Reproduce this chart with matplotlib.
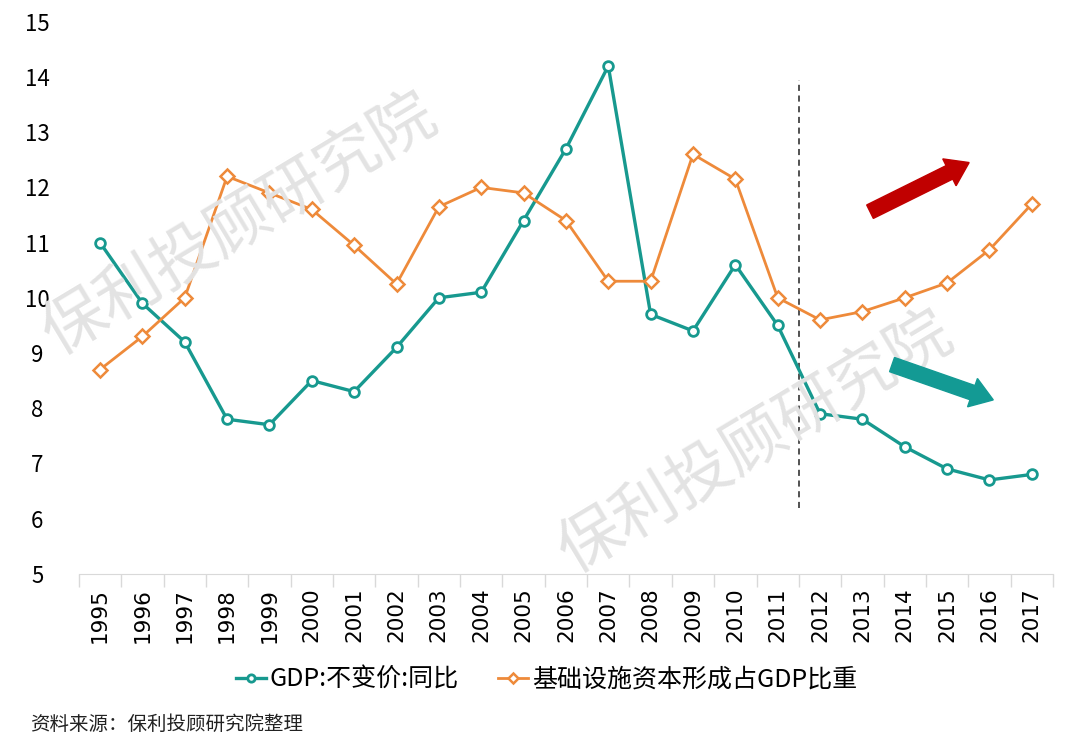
import matplotlib.pyplot as plt
from matplotlib.patches import FancyArrow
from matplotlib.transforms import IdentityTransform
from matplotlib.ticker import FixedLocator

plt.rcParams['font.family'] = ['Noto Sans CJK SC', 'DejaVu Sans']

years = [str(y) for y in range(1995, 2018)]
gdp_growth = [11.0, 9.9, 9.2, 7.8, 7.7, 8.5, 8.3, 9.1, 10.0, 10.1, 11.4, 12.7,
              14.2, 9.7, 9.4, 10.6, 9.5, 7.9, 7.8, 7.3, 6.9, 6.7, 6.8]
infra_share = [8.7, 9.3, 10.0, 12.2, 11.9, 11.6, 10.95, 10.25, 11.65, 12.0, 11.9, 11.4,
               10.3, 10.3, 12.6, 12.15, 10.0, 9.6, 9.75, 10.0, 10.27, 10.87, 11.7]
labels = ['GDP:不变价:同比', '基础设施资本形成占GDP比重']

teal = '#17998F'
orange = '#EE8A3A'

fig = plt.figure(figsize=(10.8, 7.52), dpi=100)
ax = fig.add_axes([0.073, 0.237, 0.902, 0.734])
x = list(range(len(years)))

# watermark
fig.text(0.222, 0.70, '保利投顾研究院', fontsize=46, color='#E3E3E3', rotation=31,
         ha='center', va='center', zorder=0)
fig.text(0.70, 0.41, '保利投顾研究院', fontsize=46, color='#E3E3E3', rotation=31,
         ha='center', va='center', zorder=0)

ax.plot(x, gdp_growth, color=teal, lw=2.4, marker='o', ms=7, mfc='white',
        mec=teal, mew=2, label=labels[0], zorder=3)
ax.plot(x, infra_share, color=orange, lw=2.0, marker='D', ms=7, mfc='white',
        mec=orange, mew=1.8, label=labels[1], zorder=3)

# divider between 2011 and 2012
ax.plot([16.5, 16.5], [6.2, 13.95], color='#222222', lw=1.1, ls=(0, (4, 3)), zorder=2)

ax.set_xlim(-0.5, len(years) - 0.5)
ax.set_ylim(5, 15)


# trend arrows, drawn in pixels so the shaft keeps an even width
def trend_arrow(start, end, color):
    x0, y0 = ax.transData.transform(start)
    x1, y1 = ax.transData.transform(end)
    arr = FancyArrow(x0, y0, x1 - x0, y1 - y0, width=15, head_width=30, head_length=22,
                     length_includes_head=True, color=color, transform=IdentityTransform(),
                     zorder=4)
    fig.patches.append(arr)
    arr.set_figure(fig)


trend_arrow((18.18, 11.56), (20.52, 12.45), '#C00000')
trend_arrow((18.7, 8.79), (21.09, 8.15), '#139A94')

ax.set_yticks(range(5, 16))
ax.set_xticks(x)
ax.set_xticklabels(years, rotation=90, fontsize=15.5, family=['DejaVu Sans'])
ax.tick_params(axis='x', which='major', length=0, pad=10)
ax.xaxis.set_minor_locator(FixedLocator([i - 0.5 for i in range(len(years) + 1)]))
ax.tick_params(axis='x', which='minor', length=9, color='#D9D9D9', width=1)
ax.tick_params(axis='y', length=0, labelsize=16, pad=30)
for t in ax.get_yticklabels():
    t.set_horizontalalignment('center')

for s in ['top', 'right', 'left']:
    ax.spines[s].set_visible(False)
ax.spines['bottom'].set_color('#D9D9D9')

ax.legend(loc='center', bbox_to_anchor=(0.48, -0.192), ncol=2, frameon=False,
          fontsize=18, handlelength=1.2, handletextpad=0.15, columnspacing=1.6,
          markerscale=0.75)

fig.text(0.028, 0.036, '资料来源：保利投顾研究院整理', fontsize=14, color='#222222',
         ha='left', va='center')

fig.savefig('out.png', dpi=100, facecolor='white')
